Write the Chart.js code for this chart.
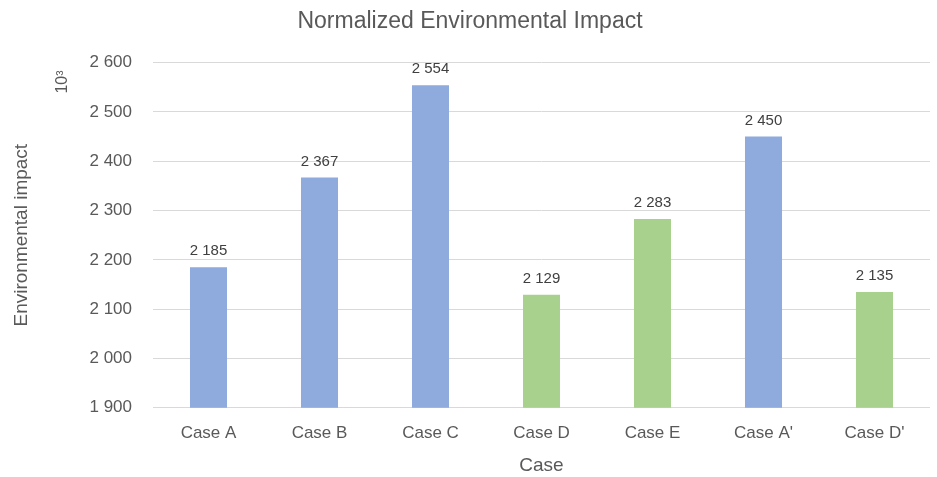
<!DOCTYPE html>
<html>
<head>
<meta charset="utf-8">
<script src="https://cdn.jsdelivr.net/npm/chart.js@4/dist/chart.umd.min.js"></script>
<style>
  html, body { margin: 0; padding: 0; background: #ffffff; }
  #wrap { width: 937px; height: 477px; }
</style>
</head>
<body>
<div id="wrap"><canvas id="c" width="937" height="477"></canvas></div>
<script>
// Categories and values (thousands)
const categories = ['Case A', 'Case B', 'Case C', 'Case D', 'Case E', "Case A'", "Case D'"];
const impactValues = [2185, 2367, 2554, 2129, 2283, 2450, 2135];
const barGroups = ['blue', 'blue', 'blue', 'green', 'green', 'blue', 'green'];
const yTicks = [1900, 2000, 2100, 2200, 2300, 2400, 2500, 2600];

const palette = { blue: '#8faadc', green: '#a9d18e' };
const textColor = '#595959';
const fontFamily = 'Arial, "Liberation Sans", sans-serif';

const fmt = v => String(Math.round(v)).replace(/\B(?=(\d{3})+(?!\d))/g, ' ');

// Value labels drawn above each bar
const valueLabels = {
  id: 'valueLabels',
  afterDatasetsDraw(chart) {
    const ctx = chart.ctx;
    const meta = chart.getDatasetMeta(0);
    ctx.save();
    ctx.font = '15px ' + fontFamily;
    ctx.fillStyle = '#404040';
    ctx.textAlign = 'center';
    ctx.textBaseline = 'alphabetic';
    meta.data.forEach((bar, i) => {
      ctx.fillText(fmt(impactValues[i]), bar.x, bar.y - 12);
    });
    ctx.restore();
  }
};

// Unit marker beside the value axis
const unitMarker = {
  id: 'unitMarker',
  afterDraw(chart) {
    const ctx = chart.ctx;
    ctx.save();
    ctx.translate(63, 82);
    ctx.rotate(-Math.PI / 2);
    ctx.font = '16px ' + fontFamily;
    ctx.fillStyle = textColor;
    ctx.textAlign = 'center';
    ctx.textBaseline = 'middle';
    ctx.fillText('10³', 0, 0);
    ctx.restore();
  }
};

new Chart(document.getElementById('c'), {
  type: 'bar',
  data: {
    labels: categories,
    datasets: [{
      data: impactValues,
      backgroundColor: barGroups.map(g => palette[g]),
      borderWidth: 0,
      barPercentage: 0.667,
      categoryPercentage: 0.5
    }]
  },
  options: {
    responsive: false,
    animation: false,
    layout: { padding: { left: 10, right: 7, top: 0, bottom: 0 } },
    plugins: {
      legend: { display: false },
      tooltip: { enabled: false },
      title: {
        display: true,
        text: 'Normalized Environmental Impact',
        color: textColor,
        font: { family: fontFamily, size: 23, weight: 'normal' },
        padding: { top: 8, bottom: 27 }
      }
    },
    scales: {
      x: {
        grid: { display: false, drawTicks: false },
        border: { display: false },
        ticks: {
          color: textColor,
          font: { family: fontFamily, size: 17 },
          padding: 15
        },
        title: {
          display: true,
          text: 'Case',
          color: textColor,
          font: { family: fontFamily, size: 19 },
          padding: { top: -4, bottom: 0 }
        }
      },
      y: {
        min: 1900,
        max: 2600,
        afterBuildTicks(axis) { axis.ticks = yTicks.map(v => ({ value: v })); },
        afterFit(axis) { axis.width = 143; },
        grid: { color: '#d9d9d9', lineWidth: 1, drawTicks: false },
        border: { display: false },
        ticks: {
          color: textColor,
          font: { family: fontFamily, size: 17 },
          padding: 21,
          callback: v => fmt(v)
        },
        title: {
          display: true,
          text: 'Environmental impact',
          color: textColor,
          font: { family: fontFamily, size: 19 },
          padding: { top: 0, bottom: 0 }
        }
      }
    }
  },
  plugins: [valueLabels, unitMarker]
});
</script>
</body>
</html>
